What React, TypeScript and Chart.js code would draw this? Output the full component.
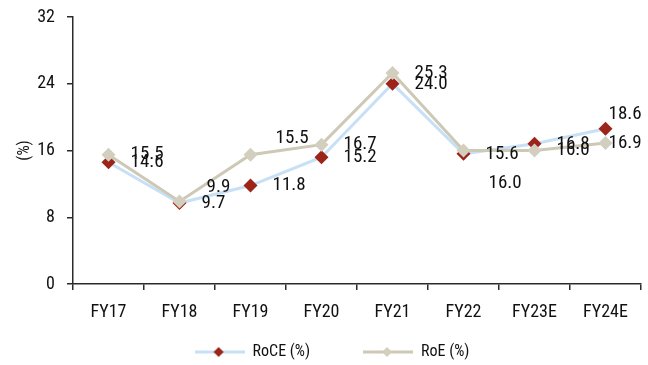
import React, { useEffect, useRef } from 'react';
import { Chart, registerables } from 'chart.js';

Chart.register(...registerables);

// ---- data ----
const categories = ['FY17', 'FY18', 'FY19', 'FY20', 'FY21', 'FY22', 'FY23E', 'FY24E'];
const roce = [14.6, 9.7, 11.8, 15.2, 24.0, 15.6, 16.8, 18.6];
const roe = [15.5, 9.9, 15.5, 16.7, 25.3, 16.0, 16.0, 16.9];
const seriesNames = ['RoCE (%)', 'RoE (%)'];
const yAxisTitle = '(%)';
const yMin = 0;
const yMax = 32;
const yStep = 8;

// nudges for value labels (px), as placed in the original
const roceLabelDx = [0, 0, 0, 0, 0, 0, 0, -19];
const roceLabelDy = [0, 0, 0, 0, 0, 0, 0, -15];
const roeLabelDx = [0, 5, 3, 0, 0, 3, 0, -19];
const roeLabelDy = [0, -14, -16, 0, 0, 33, 0, 0];

// ---- style ----
const FONT = "'Liberation Sans Narrow', 'Arial Narrow', 'Roboto Condensed', 'DejaVu Sans Condensed', sans-serif";
const ROCE_LINE = '#c8e0f6';
const ROCE_MARK = '#9c2419';
const ROE_LINE = '#cdc9b6';
const ROE_MARK = '#d3cfbe';
const AXIS = '#2b2b2b';
const TEXT = '#111111';
const LEGEND_PAD = 53;
const LEGEND_FONT = 16;
const LEGEND_CENTER_Y = 352;

function makeLegendIcon(lineColor: string, markColor: string) {
  const c = document.createElement('canvas');
  c.width = 50;
  c.height = 14;
  const g = c.getContext('2d')!;
  g.strokeStyle = lineColor;
  g.lineWidth = 3;
  g.beginPath();
  g.moveTo(0, 7);
  g.lineTo(50, 7);
  g.stroke();
  g.fillStyle = markColor;
  g.beginPath();
  g.moveTo(24, 2);
  g.lineTo(29, 7);
  g.lineTo(24, 12);
  g.lineTo(19, 7);
  g.closePath();
  g.fill();
  return c;
}

const valueLabels = {
  id: 'valueLabels',
  afterDatasetsDraw(chart: any) {
    const ctx = chart.ctx;
    ctx.save();
    ctx.font = `19px ${FONT}`;
    ctx.fillStyle = TEXT;
    ctx.textAlign = 'left';
    ctx.textBaseline = 'middle';
    const dxs = [roceLabelDx, roeLabelDx];
    const dys = [roceLabelDy, roeLabelDy];
    chart.data.datasets.forEach((ds: any, di: number) => {
      const meta = chart.getDatasetMeta(di);
      meta.data.forEach((pt: any, i: number) => {
        ctx.fillText(Number(ds.data[i]).toFixed(1), pt.x + 22 + dxs[di][i], pt.y + dys[di][i]);
      });
    });
    ctx.restore();
  },
};

// place the legend row under the axis labels
const legendPlacer = {
  id: 'legendPlacer',
  afterLayout(chart: any) {
    const lg = chart.legend;
    if (!lg) return;
    const h = lg.bottom - lg.top;
    lg.top = LEGEND_CENTER_Y - LEGEND_PAD - LEGEND_FONT / 2;
    lg.bottom = lg.top + h;
  },
};

export default function App() {
  const ref = useRef<HTMLCanvasElement | null>(null);

  useEffect(() => {
    document.body.style.margin = '0';
    const icons = [makeLegendIcon(ROCE_LINE, ROCE_MARK), makeLegendIcon(ROE_LINE, ROE_MARK)];
    const LEFT_PAD = 20;
    const X_H = 40;
    const legendH = LEGEND_FONT + LEGEND_PAD + 10;
    const chart = new Chart(ref.current!, {
      type: 'line',
      data: {
        labels: categories,
        datasets: [
          {
            label: seriesNames[0],
            data: roce,
            borderColor: ROCE_LINE,
            backgroundColor: ROCE_MARK,
            pointBackgroundColor: ROCE_MARK,
            pointBorderColor: ROCE_MARK,
            pointStyle: 'rectRot',
            pointRadius: 7,
            pointBorderWidth: 0,
            borderWidth: 3,
            tension: 0,
            order: 2,
          },
          {
            label: seriesNames[1],
            data: roe,
            borderColor: ROE_LINE,
            backgroundColor: ROE_MARK,
            pointBackgroundColor: ROE_MARK,
            pointBorderColor: ROE_MARK,
            pointStyle: 'rectRot',
            pointRadius: 7,
            pointBorderWidth: 0,
            borderWidth: 3,
            tension: 0,
            order: 1,
          },
        ],
      },
      options: {
        animation: false,
        responsive: false,
        devicePixelRatio: 1,
        layout: { padding: { top: 17, right: 4, bottom: 365 - 284 - X_H - legendH, left: LEFT_PAD } },
        scales: {
          x: {
            type: 'category',
            offset: true,
            grid: {
              offset: true,
              drawOnChartArea: false,
              drawTicks: true,
              tickLength: 6,
              color: AXIS,
              lineWidth: 1.5,
            },
            border: { display: true, color: AXIS, width: 1.5 },
            ticks: { color: TEXT, font: { family: FONT, size: 18 }, padding: 12, maxRotation: 0, autoSkip: false },
            afterFit: (s: any) => {
              s.height = X_H;
            },
          },
          y: {
            min: yMin,
            max: yMax,
            ticks: { stepSize: yStep, color: TEXT, font: { family: FONT, size: 18 }, padding: 12 },
            grid: {
              drawOnChartArea: false,
              drawTicks: true,
              tickLength: 6,
              color: AXIS,
              lineWidth: 1.5,
            },
            border: { display: true, color: AXIS, width: 1.5 },
            title: {
              display: true,
              text: yAxisTitle,
              color: TEXT,
              font: { family: FONT, size: 16, lineHeight: 1 },
              padding: { top: -3, bottom: 0 },
            },
            afterFit: (s: any) => {
              s.width = 73 - LEFT_PAD;
              s.paddingTop = 10;
              s.paddingBottom = 0;
            },
          },
        },
        plugins: {
          tooltip: { enabled: false },
          legend: {
            display: true,
            position: 'bottom',
            labels: {
              usePointStyle: true,
              pointStyleWidth: 50,
              padding: LEGEND_PAD,
              color: TEXT,
              font: { family: FONT, size: LEGEND_FONT },
              sort: (a: any, b: any) => a.datasetIndex - b.datasetIndex,
              generateLabels: (ch: any) => {
                const items = (Chart.defaults.plugins.legend.labels as any).generateLabels(ch);
                return items.map((it: any) => ({ ...it, pointStyle: icons[it.datasetIndex] }));
              },
            },
          },
        },
      },
      plugins: [valueLabels, legendPlacer],
    } as any);
    return () => chart.destroy();
  }, []);

  return (
    <div style={{ width: 648, height: 365 }}>
      <canvas ref={ref} width={648} height={365} style={{ display: 'block', width: 648, height: 365 }} />
    </div>
  );
}
